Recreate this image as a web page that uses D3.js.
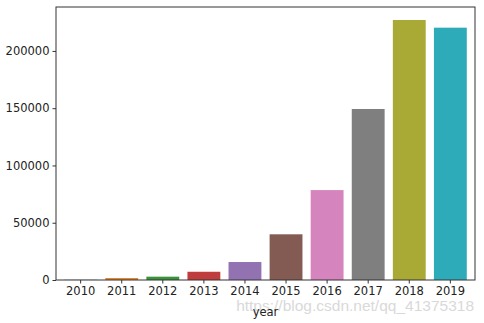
<!DOCTYPE html>
<html>
<head>
<meta charset="utf-8">
<script src="https://cdn.jsdelivr.net/npm/d3@7"></script>
<style>
  body { margin: 0; background: #fff; }
  svg { display: block; }
  text { font-family: "DejaVu Sans", sans-serif; }
</style>
</head>
<body>
<svg id="chart" width="484" height="323"></svg>
<script>
// data
var years = ["2010", "2011", "2012", "2013", "2014", "2015", "2016", "2017", "2018", "2019"];
var counts = [150, 1700, 2900, 7200, 15700, 39900, 78500, 149300, 227000, 220300];
var colours = ["#3274a1", "#e1812c", "#3a923a", "#c03d3e", "#9372b2",
               "#845b53", "#d684bd", "#7f7f7f", "#a9aa35", "#2eabb8"];
var yTicks = [0, 50000, 100000, 150000, 200000];

var svg = d3.select("#chart");
var margin = {top: 7, right: 9, bottom: 43, left: 56};
var width = 484 - margin.left - margin.right,
    height = 323 - margin.top - margin.bottom;

var g = svg.append("g")
  .attr("transform", "translate(" + margin.left + "," + margin.top + ")");

var x = d3.scaleBand().domain(years).range([0, width]).padding(0.2);
var y = d3.scaleLinear().domain([0, d3.max(counts) * 1.05]).range([height, 0]);

// bars
g.selectAll(".bar")
  .data(years)
  .enter().append("rect")
  .attr("class", "bar")
  .attr("x", function(d) { return x(d); })
  .attr("width", x.bandwidth())
  .attr("y", function(d, i) { return y(counts[i]); })
  .attr("height", function(d, i) { return height - y(counts[i]); })
  .style("fill", function(d, i) { return colours[i]; });

// axes
var xAxis = g.append("g")
  .attr("transform", "translate(0," + height + ")")
  .call(d3.axisBottom(x).tickSize(3.5).tickSizeOuter(0).tickPadding(3));
var yAxis = g.append("g")
  .call(d3.axisLeft(y).tickValues(yTicks).tickFormat(d3.format("d")).tickSize(3.5).tickSizeOuter(0).tickPadding(3));

[xAxis, yAxis].forEach(function(a) {
  a.selectAll("text").style("font-size", "11.5px").style("fill", "#222");
  a.selectAll("line").style("stroke", "#333");
  a.select(".domain").remove();
});

// frame
g.append("rect")
  .attr("x", 0).attr("y", 0)
  .attr("width", width).attr("height", height)
  .style("fill", "none")
  .style("stroke", "#333")
  .style("stroke-width", 1);

// watermark
svg.append("text")
  .attr("x", 474).attr("y", 311)
  .attr("text-anchor", "end")
  .style("font-family", "Liberation Sans, Arial, sans-serif")
  .style("font-size", "15.5px")
  .style("fill", "#d9d9d9")
  .text("https://blog.csdn.net/qq_41375318");

// x label
svg.append("text")
  .attr("x", margin.left + width / 2)
  .attr("y", 316)
  .attr("text-anchor", "middle")
  .style("font-size", "11.5px")
  .style("fill", "#222")
  .text("year");
</script>
</body>
</html>
